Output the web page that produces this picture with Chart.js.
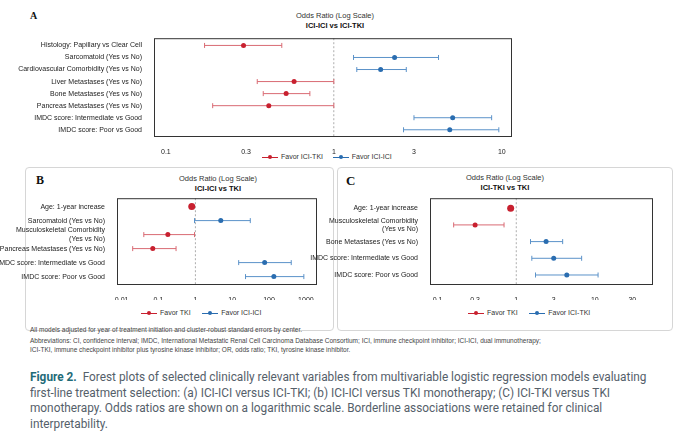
<!DOCTYPE html>
<html><head><meta charset="utf-8">
<script src="https://cdn.jsdelivr.net/npm/chart.js@4"></script>
<style>
body{margin:0;width:680px;height:448px;background:#fff;font-family:"Liberation Sans",Arial,sans-serif;position:relative;overflow:hidden}
.abs{position:absolute}
.t1{font-size:7.5px;color:#333;text-align:center;width:200px}
.t2{font-size:7.5px;color:#111;font-weight:bold;text-align:center;width:200px}
.let{font-family:"Liberation Serif",serif;font-weight:bold;color:#111}
.box{border:1px solid #d6d6d6;border-radius:4px}
.leg{font-size:7px;color:#333;white-space:nowrap}
.mk{display:inline-block;position:relative;width:16px;height:8px;vertical-align:middle;margin-right:3px}
.mk:before{content:"";position:absolute;left:0;right:0;top:4px;height:1px;background:var(--c)}
.mk:after{content:"";position:absolute;left:6px;top:2px;width:4px;height:4px;border-radius:50%;background:var(--c)}
.foot{font-size:6.5px;color:#444;white-space:nowrap}
.cap{font-family:"Roboto",sans-serif;font-size:13.6px;color:#55606a;line-height:15.7px;width:720px;transform:scaleX(0.87);transform-origin:0 0}
</style></head><body>
<div class="abs box" style="left:25px;top:167px;width:307px;height:162px"></div>
<div class="abs box" style="left:337px;top:167px;width:334px;height:162px"></div>
<div class="abs let" style="left:30px;top:10px;font-size:10px">A</div>
<div class="abs let" style="left:36px;top:173px;font-size:12px">B</div>
<div class="abs let" style="left:346px;top:173px;font-size:13px">C</div>
<div class="abs t1" style="left:235px;top:11px">Odds Ratio (Log Scale)</div>
<div class="abs t2" style="left:235px;top:21px">ICI-ICI vs ICI-TKI</div>
<div class="abs t1" style="left:118px;top:174px">Odds Ratio (Log Scale)</div>
<div class="abs t2" style="left:118px;top:184px">ICI-ICI vs TKI</div>
<div class="abs t1" style="left:405px;top:173px">Odds Ratio (Log Scale)</div>
<div class="abs t2" style="left:405px;top:183px">ICI-TKI vs TKI</div>
<div class="abs leg" style="left:262px;top:153px"><span class="mk" style="--c:#c8202f"></span>Favor ICI-TKI &nbsp;&nbsp;&nbsp;&nbsp;<span class="mk" style="--c:#2a6db0"></span>Favor ICI-ICI</div>
<div class="abs leg" style="left:141px;top:309px"><span class="mk" style="--c:#c8202f"></span>Favor TKI &nbsp;&nbsp;&nbsp;&nbsp;&nbsp;<span class="mk" style="--c:#2a6db0"></span>Favor ICI-ICI</div>
<div class="abs leg" style="left:468px;top:309px"><span class="mk" style="--c:#c8202f"></span>Favor TKI &nbsp;&nbsp;&nbsp;&nbsp;&nbsp;<span class="mk" style="--c:#2a6db0"></span>Favor ICI-TKI</div>
<canvas id="cA" class="abs" style="left:0;top:30px" width="516" height="128"></canvas>
<canvas id="cB" class="abs" style="left:0;top:190px" width="321" height="110"></canvas>
<canvas id="cC" class="abs" style="left:300px;top:190px" width="357" height="110"></canvas>
<div class="abs foot" style="left:30px;top:326px">All models adjusted for year of treatment initiation and cluster-robust standard errors by center.</div>
<div class="abs foot" style="left:30px;top:337px">Abbreviations: CI, confidence interval; IMDC, International Metastatic Renal Cell Carcinoma Database Consortium; ICI, immune checkpoint inhibitor; ICI-ICI, dual immunotherapy;</div>
<div class="abs foot" style="left:30px;top:346px">ICI-TKI, immune checkpoint inhibitor plus tyrosine kinase inhibitor; OR, odds ratio; TKI, tyrosine kinase inhibitor.</div>
<div class="abs cap" style="left:30px;top:369px"><b style="color:#1f6b78">Figure 2.</b>&nbsp; Forest plots of selected clinically relevant variables from multivariable logistic regression models evaluating first-line treatment selection: (a) ICI-ICI versus ICI-TKI; (b) ICI-ICI versus TKI monotherapy; (C) ICI-TKI versus TKI monotherapy. Odds ratios are shown on a logarithmic scale. Borderline associations were retained for clinical interpretability.</div>
<script>
// Panel A
const catsA = ["Histology: Papillary vs Clear Cell","Sarcomatoid (Yes vs No)","Cardiovascular Comorbidity (Yes vs No)","Liver Metastases (Yes vs No)","Bone Metastases (Yes vs No)","Pancreas Metastases (Yes vs No)","IMDC score: Intermediate vs Good","IMDC score: Poor vs Good"];
const orA = [0.29,2.3,1.9,0.58,0.52,0.41,5.1,4.9];
const loA = [0.17,1.31,1.37,0.35,0.38,0.19,3.0,2.6];
const hiA = [0.49,4.2,2.7,1.0,0.72,1.0,8.7,9.6];
const ticksA = [0.1,0.3,1,3,10];
// Panel B
const catsB = ["Age: 1-year increase","Sarcomatoid (Yes vs No)",["Musculoskeletal Comorbidity","(Yes vs No)"],"Pancreas Metastases (Yes vs No)","IMDC score: Intermediate vs Good","IMDC score: Poor vs Good"];
const orB = [0.8,4.9,0.18,0.07,76,135];
const loB = [0.74,0.95,0.04,0.02,15,23];
const hiB = [0.86,31,0.95,0.3,400,880];
const ticksB = [0.01,0.1,1,10,100,1000];
// Panel C
const catsC = ["Age: 1-year increase",["Musculoskeletal Comorbidity","(Yes vs No)"],"Bone Metastases (Yes vs No)","IMDC score: Intermediate vs Good","IMDC score: Poor vs Good"];
const orC = [0.85,0.3,2.4,3.0,4.4];
const loC = [0.82,0.16,1.52,1.58,1.76];
const hiC = [0.88,0.70,3.9,6.8,11];
const ticksC = [0.1,0.3,1,3,10,30];

const RED='#c8202f', RED_L='#d96a73', BLUE='#2a6db0', BLUE_L='#5b92c9';

function forest(id, cats, or, lo, hi, ticks, min, max, yw, xh, padTop, firstBig){
  const plug = {
    id:'fp',
    beforeDatasetsDraw(ch){
      const {ctx, chartArea:a, scales:{x,y}} = ch;
      ctx.save();
      ctx.strokeStyle='#999'; ctx.lineWidth=0.8; ctx.setLineDash([2,2]);
      const x1 = x.getPixelForValue(1);
      ctx.beginPath(); ctx.moveTo(x1,a.top); ctx.lineTo(x1,a.bottom); ctx.stroke();
      ctx.setLineDash([]);
      cats.forEach((c,i)=>{
        const yy = y.getPixelForValue(i);
        const xl = x.getPixelForValue(lo[i]), xr = x.getPixelForValue(hi[i]);
        ctx.strokeStyle = or[i]<1 ? RED_L : BLUE_L; ctx.lineWidth=1;
        ctx.beginPath(); ctx.moveTo(xl,yy); ctx.lineTo(xr,yy);
        ctx.moveTo(xl,yy-2.5); ctx.lineTo(xl,yy+2.5);
        ctx.moveTo(xr,yy-2.5); ctx.lineTo(xr,yy+2.5); ctx.stroke();
      });
      ctx.restore();
    },
    afterDraw(ch){
      const {ctx, chartArea:a} = ch;
      ctx.save(); ctx.strokeStyle='#333'; ctx.lineWidth=1;
      ctx.strokeRect(a.left+0.5,a.top+0.5,a.width-1,a.height-1); ctx.restore();
    }
  };
  new Chart(document.getElementById(id), {
    type:'scatter',
    data:{datasets:[{
      data: or.map((v,i)=>({x:v,y:i})),
      pointBackgroundColor: or.map(v=>v<1?RED:BLUE),
      pointBorderWidth:0,
      pointRadius: or.map((v,i)=>(firstBig&&i===0)?3.5:2.5)
    }]},
    options:{
      responsive:false, animation:false, events:[],
      layout:{padding:{top:padTop,right:2,left:0,bottom:0}},
      plugins:{legend:{display:false},tooltip:{enabled:false}},
      scales:{
        x:{type:'logarithmic',min,max,grid:{display:false},border:{display:false},
           afterBuildTicks(s){s.ticks=ticks.map(v=>({value:v}));},
           afterFit(s){s.height=xh;},
           ticks:{font:{size:7,family:'Liberation Sans'},color:'#222',padding:3,maxRotation:0,autoSkip:false,
             callback:(v)=>String(v)}},
        y:{type:'linear',reverse:true,min:-0.6,max:cats.length-0.4,grid:{display:false},border:{display:false},
           afterBuildTicks(s){s.ticks=cats.map((c,i)=>({value:i}));},
           afterFit(s){s.width=yw;},
           ticks:{font:{size:7,family:'Liberation Sans'},color:'#222',padding:4,autoSkip:false,
             callback:(v)=>cats[v]}}
      }
    },
    plugins:[plug]
  });
}
forest('cA',catsA,orA,loA,hiA,ticksA,0.085,11.5,154,21,3,false);
forest('cB',catsB,orB,loB,hiB,ticksB,0.0075,2000,117,15,6,true);
forest('cC',catsC,orC,loC,hiC,ticksC,0.08,55,130,15,5,true);
</script>
</body></html>
